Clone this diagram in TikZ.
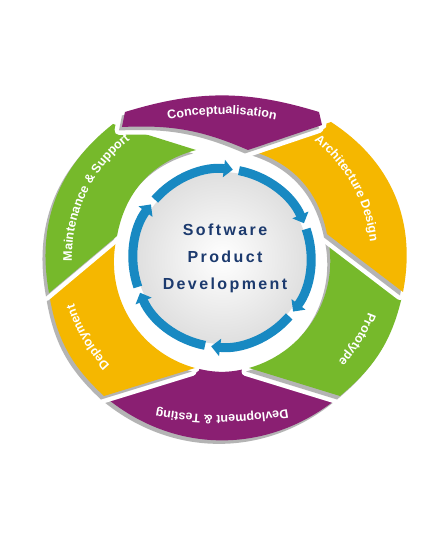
\documentclass[tikz,border=0pt]{standalone}
\usepackage{fontspec}
\setmainfont{Liberation Sans}
\usetikzlibrary{arrows.meta,decorations.text}
\definecolor{cyclepurple}{RGB}{138,31,114}
\definecolor{cyclegreen}{RGB}{118,185,43}
\definecolor{cycleyellow}{RGB}{245,183,0}
\definecolor{ringblue}{RGB}{24,137,194}
\definecolor{titleblue}{RGB}{28,58,110}
\definecolor{shadowgray}{RGB}{180,180,180}
\newcommand\lblfont{\fontsize{12.5}{13}\selectfont\bfseries}
\begin{document}
\begin{tikzpicture}[
    x=1pt, y=1pt,
    piece/.style={fill=#1,
      preaction={draw=white, line width=9pt, line join=round, transform canvas={shift={(-3pt,-3.5pt)}}},
      preaction={draw=white, line width=9pt, line join=round},
      preaction={fill=shadowgray, transform canvas={shift={(-3pt,-3.5pt)}}}},
    lbl/.style={decorate, decoration={text along path, text align=center, text color=white, text={|\lblfont|#1}}},
    ringarrow/.style={draw=ringblue, line width=9pt, -{Triangle[width=17pt,length=9pt]}}
  ]
  \useasboundingbox (-222,-279) rectangle (213,258);
  % outer pieces, back to front
  \path[piece=cyclepurple] (-27,-110) -- (-118,-138) to[bend right=40] (118,-138) -- (27,-110) to[bend left=14] cycle;
  \path[piece=cycleyellow] (-105,22) -- (-173,-35) to[bend right=19] (-118,-138) -- (-27,-110) to[bend left=44] cycle;
  \path[piece=cyclegreen] (105,24) -- (181,-34) to[bend left=19] (118,-138) -- (27,-110) to[bend right=44] cycle;
  \path[piece=cyclegreen] (-26,108) -- (-109,134) to[bend right=31] (-173,-35) -- (-105,22) to[bend left=32] cycle;
  \path[piece=cycleyellow] (26,108) -- (109,136) to[bend left=34] (181,-34) -- (105,24) to[bend right=32] cycle;
  \path[piece=cyclepurple] (-100,131) -- (-97,146) to[bend left=17] (97,146) -- (100,133) -- (26,108) to[bend right=13] cycle;
  % hub
  \shade[inner color=white, outer color=gray!25] (0,0) circle (86);
  \foreach \tip in {83,23,-37,-97,-157,143}
    \draw[ringarrow] (\tip+56:89) arc[start angle=\tip+56, end angle=\tip, radius=89];
  \node[align=center, text=titleblue, font=\fontsize{16}{27}\selectfont\bfseries\addfontfeatures{LetterSpace=15}] (title) at (3,0) {Software\\Product\\Development};
  % labels
  \path[lbl=Conceptualisation, shift={(0,-106)}] (110:250) arc[start angle=110, end angle=70, radius=250];
  \path[lbl=Architecture Design] (64:149) arc[start angle=64, end angle=-6, radius=149];
  \path[lbl=Prototype] (0:156) arc[start angle=0, end angle=-62, radius=156];
  \path[lbl=Devlopment {\&} Testing] (100,-144) to[bend left=13] (-100,-144);
  \path[lbl=Deployment] (240:155) arc[start angle=240, end angle=181, radius=155];
  \path[lbl=Maintenance {\&} Support] (194:150) arc[start angle=194, end angle=115, radius=150];
\end{tikzpicture}
\end{document}
